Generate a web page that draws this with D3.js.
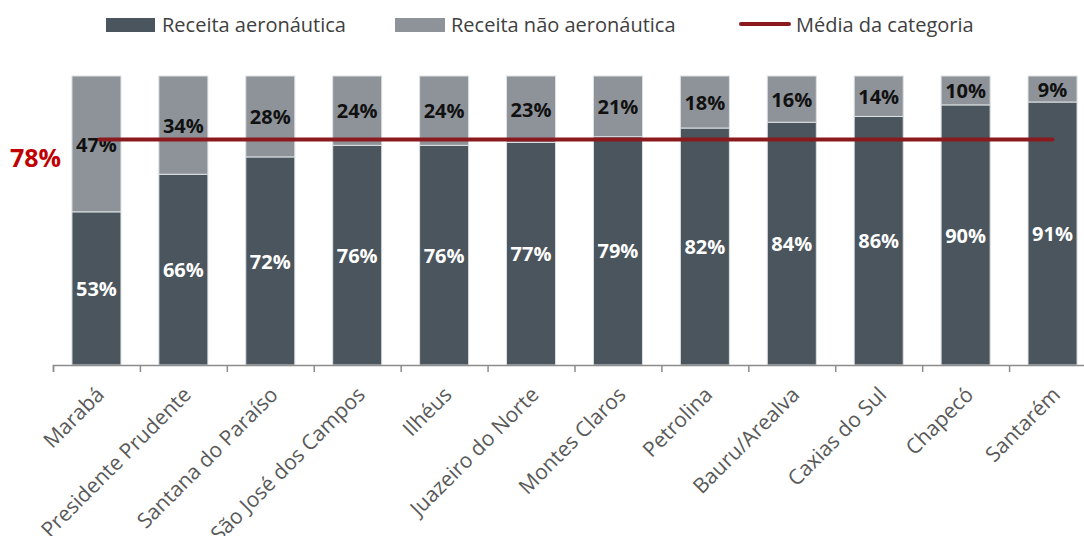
<!DOCTYPE html>
<html>
<head>
<meta charset="utf-8">
<script src="https://cdn.jsdelivr.net/npm/d3@7"></script>
<style>
  body { margin: 0; background: #fff; }
  text { font-family: "Open Sans", sans-serif; }
</style>
</head>
<body>
<div id="svg-container"></div>
<script>
// data
const airports = ['Marabá', 'Presidente Prudente', 'Santana do Paraíso', 'São José dos Campos',
    'Ilhéus', 'Juazeiro do Norte', 'Montes Claros', 'Petrolina', 'Bauru/Arealva',
    'Caxias do Sul', 'Chapecó', 'Santarém']
const aero = [53, 66, 72, 76, 76, 77, 79, 82, 84, 86, 90, 91]
const naoAero = [47, 34, 28, 24, 24, 23, 21, 18, 16, 14, 10, 9]
const mediaCategoria = 78
const seriesNames = ['Receita aeronáutica', 'Receita não aeronáutica', 'Média da categoria']

// dimensions
const dim = {
    width: 1043,
    height: 289,
    margin: { top: 76, right: 0, bottom: 171, left: 53 }
}

const svg = d3.select('#svg-container')
    .append('svg')
        .attr('width', 1084)
        .attr('height', 536)

const g = svg.append('g')
    .attr('transform', `translate(${dim.margin.left}, ${dim.margin.top})`)

const rows = airports.map((a, i) => ({ airport: a, aero: aero[i], nao: naoAero[i] }))
const stacked = d3.stack().keys(['aero', 'nao'])(rows)

// scales
const xScale = d3.scaleBand()
    .domain(airports)
    .range([0, dim.width])
    .paddingInner(0.436)
    .paddingOuter(0.218)

const yScale = d3.scaleLinear()
    .domain([0, 100])
    .range([dim.height, 0])

const fillScale = d3.scaleOrdinal()
    .domain(['aero', 'nao'])
    .range(['#4a555d', '#8e9399'])

const labelColor = { aero: '#ffffff', nao: '#111111' }

// bars
const layers = g.append('g')
    .selectAll('g')
    .data(stacked)
    .join('g')
        .attr('fill', d => fillScale(d.key))

layers.selectAll('rect')
    .data(d => d)
    .join('rect')
        .attr('x', d => xScale(d.data.airport))
        .attr('y', d => yScale(d[1]))
        .attr('height', d => yScale(d[0]) - yScale(d[1]))
        .attr('width', xScale.bandwidth())
        .attr('stroke', '#dde1e4')
        .attr('stroke-width', 1)

// value labels
stacked.forEach(layer => {
    g.append('g')
        .selectAll('text')
        .data(layer)
        .join('text')
            .attr('x', d => xScale(d.data.airport) + xScale.bandwidth() / 2)
            .attr('y', d => yScale((d[0] + d[1]) / 2))
            .attr('dy', '0.38em')
            .attr('text-anchor', 'middle')
            .attr('font-size', 20)
            .attr('font-weight', 'bold')
            .attr('fill', labelColor[layer.key])
            .text(d => (d[1] - d[0]) + '%')
})

// average line
const first = airports[0], last = airports[airports.length - 1]
g.append('line')
    .attr('x1', xScale(first) + xScale.bandwidth() / 2 + 3)
    .attr('x2', xScale(last) + xScale.bandwidth() / 2)
    .attr('y1', yScale(mediaCategoria))
    .attr('y2', yScale(mediaCategoria))
    .attr('stroke', '#8b1a1e')
    .attr('stroke-width', 4)
    .attr('stroke-linecap', 'round')

svg.append('text')
    .attr('x', 10)
    .attr('y', dim.margin.top + yScale(mediaCategoria) + 27)
    .attr('font-size', 25)
    .attr('font-weight', 'bold')
    .attr('fill', '#c00000')
    .text(mediaCategoria + '%')

// x axis with ticks between bars
const edgeScale = d3.scaleLinear()
    .domain([0, airports.length])
    .range([0, dim.width])

const xAxis = g.append('g')
    .attr('transform', `translate(0, ${dim.height})`)
    .call(d3.axisBottom(edgeScale).ticks(airports.length).tickSize(7).tickFormat(''))

xAxis.selectAll('path, line')
    .attr('stroke', '#8c8c8c')
    .attr('stroke-width', 1.5)

g.append('g')
    .selectAll('text')
    .data(airports)
    .join('text')
        .attr('transform', d => `translate(${xScale(d) + xScale.bandwidth() / 2 + 9}, ${dim.height + 31}) rotate(-45)`)
        .attr('text-anchor', 'end')
        .attr('font-size', 21)
        .attr('fill', '#595959')
        .text(d => d)

// legend
const legend = svg.append('g')
legend.append('rect').attr('x', 106).attr('y', 18).attr('width', 49).attr('height', 14).attr('fill', fillScale('aero'))
legend.append('rect').attr('x', 395).attr('y', 18).attr('width', 50).attr('height', 14).attr('fill', fillScale('nao'))
legend.append('line').attr('x1', 741).attr('x2', 789).attr('y1', 24).attr('y2', 24)
    .attr('stroke', '#8b1a1e').attr('stroke-width', 4).attr('stroke-linecap', 'round')

legend.selectAll('text.leg')
    .data([[162, seriesNames[0]], [451, seriesNames[1]], [796, seriesNames[2]]])
    .join('text')
        .attr('class', 'leg')
        .attr('x', d => d[0])
        .attr('y', 32)
        .attr('font-size', 20)
        .attr('fill', '#404040')
        .text(d => d[1])
</script>
</body>
</html>
